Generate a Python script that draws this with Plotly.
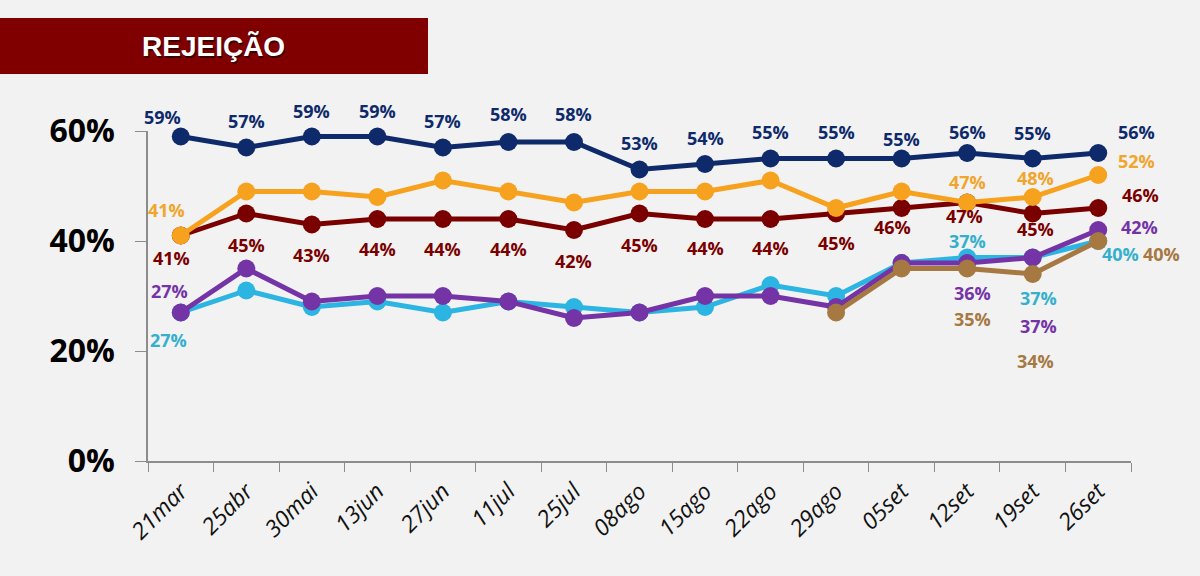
import plotly.graph_objects as go

categories = ["21mar", "25abr", "30mai", "13jun", "27jun", "11jul", "25jul", "08ago",
              "15ago", "22ago", "29ago", "05set", "12set", "19set", "26set"]

navy_vals = [59, 57, 59, 59, 57, 58, 58, 53, 54, 55, 55, 55, 56, 55, 56]
orange_vals = [41, 49, 49, 48, 51, 49, 47, 49, 49, 51, 46, 49, 47, 48, 52]
red_vals = [41, 45, 43, 44, 44, 44, 42, 45, 44, 44, 45, 46, 47, 45, 46]
cyan_vals = [27, 31, 28, 29, 27, 29, 28, 27, 28, 32, 30, 36, 37, 37, 40]
purple_vals = [27, 35, 29, 30, 30, 29, 26, 27, 30, 30, 28, 36, 36, 37, 42]
brown_cats = ["29ago", "05set", "12set", "19set", "26set"]
brown_vals = [27, 35, 35, 34, 40]

y_ticks = [0, 20, 40, 60]
y_tick_text = ["0%", "20%", "40%", "60%"]

title_text = "REJEIÇÃO"

# label offsets in pixels (dx right, dy down) by point index
navy_lab = {0: (-18, -20), 1: (0, -27), 2: (0, -26), 3: (0, -26), 4: (0, -27), 5: (0, -28),
            6: (0, -28), 7: (0, -27), 8: (0, -26), 9: (0, -27), 10: (0, -27), 11: (0, -20),
            12: (0, -21), 13: (0, -26), 14: (38, -21)}
orange_lab = {0: (-14, -26), 12: (0, -21), 13: (3, -19), 14: (38, -14)}
red_lab = {0: (-9, 22), 1: (0, 31), 2: (0, 30), 3: (0, 30), 4: (0, 30), 5: (0, 30), 6: (0, 31),
           7: (0, 31), 8: (0, 29), 9: (0, 29), 10: (0, 29), 11: (-9, 19), 12: (-3, 13),
           13: (3, 15), 14: (42, -13)}
cyan_lab = {0: (-12, 27), 12: (0, -17), 13: (6, 40), 14: (22, 13)}
purple_lab = {0: (-11, -22), 12: (5, 30), 13: (6, 68), 14: (41, -3)}
brown_lab = {2: (5, 50), 3: (3, 87), 4: (63, 13)}

C_NAVY = "#0e2a6a"
C_ORANGE = "#f7a21e"
C_RED = "#7a0000"
C_CYAN = "#2cb4e2"
C_PURPLE = "#7534a6"
C_BROWN = "#a67842"

lab_colors = {C_CYAN: "#35b0cc", C_ORANGE: "#f0a52c"}

fig = go.Figure()

series = [
    (categories, cyan_vals, C_CYAN, cyan_lab),
    (categories, purple_vals, C_PURPLE, purple_lab),
    (brown_cats, brown_vals, C_BROWN, brown_lab),
    (categories, red_vals, C_RED, red_lab),
    (categories, orange_vals, C_ORANGE, orange_lab),
    (categories, navy_vals, C_NAVY, navy_lab),
]

annotations = []
for xs, ys, col, labs in series:
    fig.add_trace(go.Scatter(
        x=xs, y=ys, mode="lines+markers",
        line=dict(color=col, width=5),
        marker=dict(color=col, size=18),
        cliponaxis=False, showlegend=False, hoverinfo="skip"))
    for i, (dx, dy) in labs.items():
        annotations.append(dict(
            x=xs[i], y=ys[i], xref="x", yref="y", text=f"{ys[i]}%",
            showarrow=False, xshift=dx, yshift=-dy,
            xanchor="center", yanchor="middle",
            font=dict(family="Open Sans", size=18, color=lab_colors.get(col, col), weight="bold")))

fig.update_layout(
    width=1200, height=576,
    margin=dict(l=148, r=69, t=131, b=115),
    paper_bgcolor="#f2f2f2", plot_bgcolor="#f2f2f2",
    showlegend=False,
    xaxis=dict(type="category", categoryorder="array", categoryarray=categories,
               range=[-0.5, 14.5], tickson="boundaries", ticks="outside", ticklen=9,
               tickcolor="#8c8c8c", showline=True, linecolor="#8c8c8c", linewidth=1.5,
               showgrid=False, zeroline=False, tickangle=-45, ticklabelstandoff=6,
               tickfont=dict(family="Open Sans", size=23, color="#111111", style="italic")),
    yaxis=dict(range=[0, 60], tickvals=y_ticks, ticktext=y_tick_text, ticks="outside",
               ticklen=11, tickcolor="#8c8c8c", showline=True, linecolor="#8c8c8c",
               linewidth=1.5, showgrid=False, zeroline=False, ticklabelstandoff=14,
               tickfont=dict(family="Open Sans", size=32, color="#000000", weight="bold")),
    annotations=annotations,
)

# title banner positioned in pixel terms via paper fractions
pw, ph = 1200 - 148 - 69, 576 - 131 - 115
def px(xp):
    return (xp - 148) / pw
def py(yp):
    return (576 - 115 - yp) / ph

fig.add_shape(type="rect", xref="paper", yref="paper",
              x0=px(0), x1=px(428), y0=py(74), y1=py(18),
              fillcolor="#800000", line=dict(width=0))
fig.add_annotation(xref="paper", yref="paper", x=px(213), y=py(47),
                   xanchor="center", yanchor="middle",
                   text=title_text, showarrow=False, xshift=1.5, yshift=-1.5,
                   font=dict(family="Liberation Sans", size=28, color="#3a0000", weight="bold"))
fig.add_annotation(xref="paper", yref="paper", x=px(213), y=py(47),
                   xanchor="center", yanchor="middle",
                   text=title_text, showarrow=False,
                   font=dict(family="Liberation Sans", size=28, color="#ffffff", weight="bold"))

fig.write_html("out.html", config={"displayModeBar": False},
               post_script="document.body.style.margin='0px';")
